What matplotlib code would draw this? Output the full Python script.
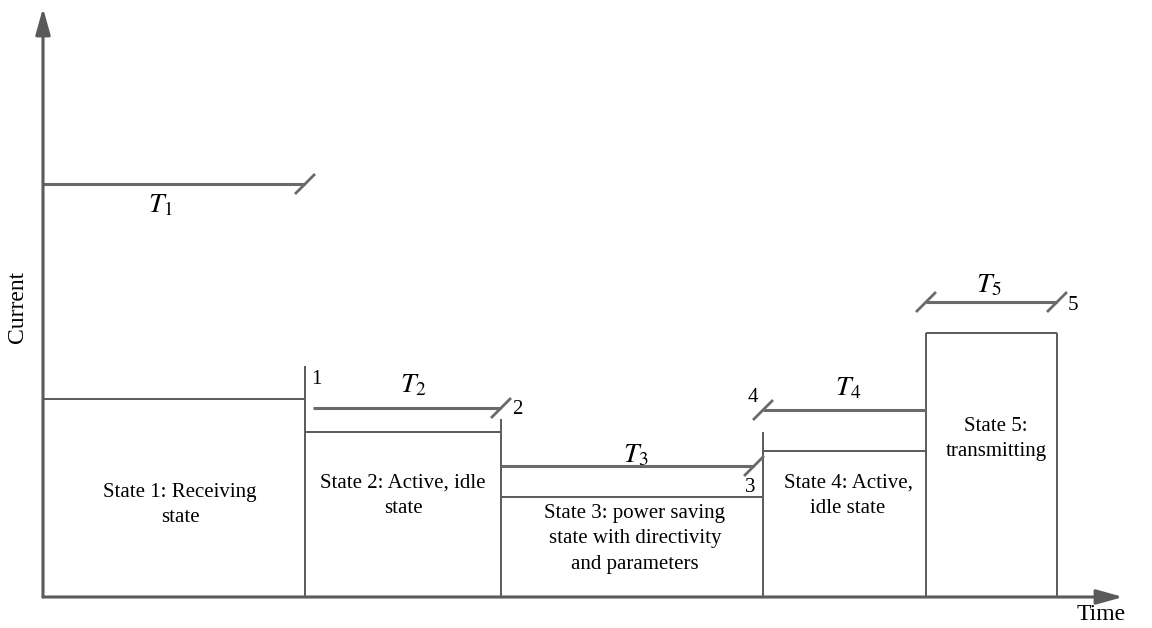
import matplotlib
matplotlib.use("Agg")
import matplotlib.pyplot as plt

plt.rcParams["font.family"] = ["Liberation Serif", "DejaVu Serif"]
plt.rcParams["mathtext.fontset"] = "stix"

# states: left edge, right edge, current level (px from origin)
state_left = [0, 262, 458, 720, 883]
state_right = [262, 458, 720, 883, 1014]
state_level = [198, 165, 100, 146, 264]
state_text = [
    "State 1: Receiving\nstate",
    "State 2: Active, idle\nstate",
    "State 3: power saving\nstate with directivity\nand parameters",
    "State 4: Active,\nidle state",
    "State 5:\ntransmitting",
]
state_text_x = [137, 360, 592, 805, 953]
state_text_y = [92, 101, 58, 101, 158]

# vertical boundaries that rise above the boxes
edge_x = [262, 458, 720, 883, 1014]
edge_top = [231, 178, 165, 264, 264]

# duration bars T1..T5
period_y = [413, 189, 131, 187, 295]
period_x0 = [0, 270, 458, 720, 883]
period_x1 = [262, 458, 711, 883, 1014]
period_name = ["$T_1$", "$T_2$", "$T_3$", "$T_4$", "$T_5$"]
period_label_x = [118, 370, 593, 805, 946]
period_label_y = [391, 211, 141, 208, 311]
slash_x = [262, 458, 711, 720, 883, 1014]
slash_y = [413, 189, 131, 187, 295, 295]

marker_text = ["1", "2", "3", "4", "5"]
marker_x = [273, 474, 707, 710, 1030]
marker_y = [217, 187, 110, 199, 291]

LINE = "#5a5a5a"
BAR = "#6a6a6a"

fig = plt.figure(figsize=(11.52, 6.28), dpi=100)
ax = fig.add_axes([0, 0, 1, 1])
ax.set_xlim(-43, 1109)
ax.set_ylim(-31, 597)
ax.axis("off")

# axes with arrows
arrow = dict(arrowstyle="-|>,head_length=1.0,head_width=0.28",
             mutation_scale=16, color=LINE, lw=2.2, shrinkA=0, shrinkB=0)
ax.annotate("", xy=(0, 589), xytext=(0, 0), arrowprops=arrow)
ax.annotate("", xy=(1080, 0), xytext=(0, 0), arrowprops=arrow)
ax.text(-25, 290, "Current", rotation=90, ha="center", va="center", fontsize=17)
ax.text(1058, -18, "Time", ha="center", va="center", fontsize=17)

# state boxes
for x0, x1, h in zip(state_left, state_right, state_level):
    ax.plot([x0, x1], [h, h], color=LINE, lw=1.4, solid_capstyle="butt")
for x, top in zip(edge_x, edge_top):
    ax.plot([x, x], [0, top], color=LINE, lw=1.4, solid_capstyle="butt")
for txt, x, y in zip(state_text, state_text_x, state_text_y):
    ax.text(x, y, txt, ha="center", va="center", fontsize=15, linespacing=1.45)

# duration bars
for y, x0, x1 in zip(period_y, period_x0, period_x1):
    ax.plot([x0, x1], [y, y], color=BAR, lw=2.2, solid_capstyle="butt")
for x, y in zip(slash_x, slash_y):
    ax.plot([x - 9, x + 9], [y - 9, y + 9], color=BAR, lw=2.0)
for name, x, y in zip(period_name, period_label_x, period_label_y):
    ax.text(x, y, name, ha="center", va="center", fontsize=20)
for txt, x, y in zip(marker_text, marker_x, marker_y):
    ax.text(x, y, txt, ha="center", va="center", fontsize=15)

fig.savefig("out.png", dpi=100)
